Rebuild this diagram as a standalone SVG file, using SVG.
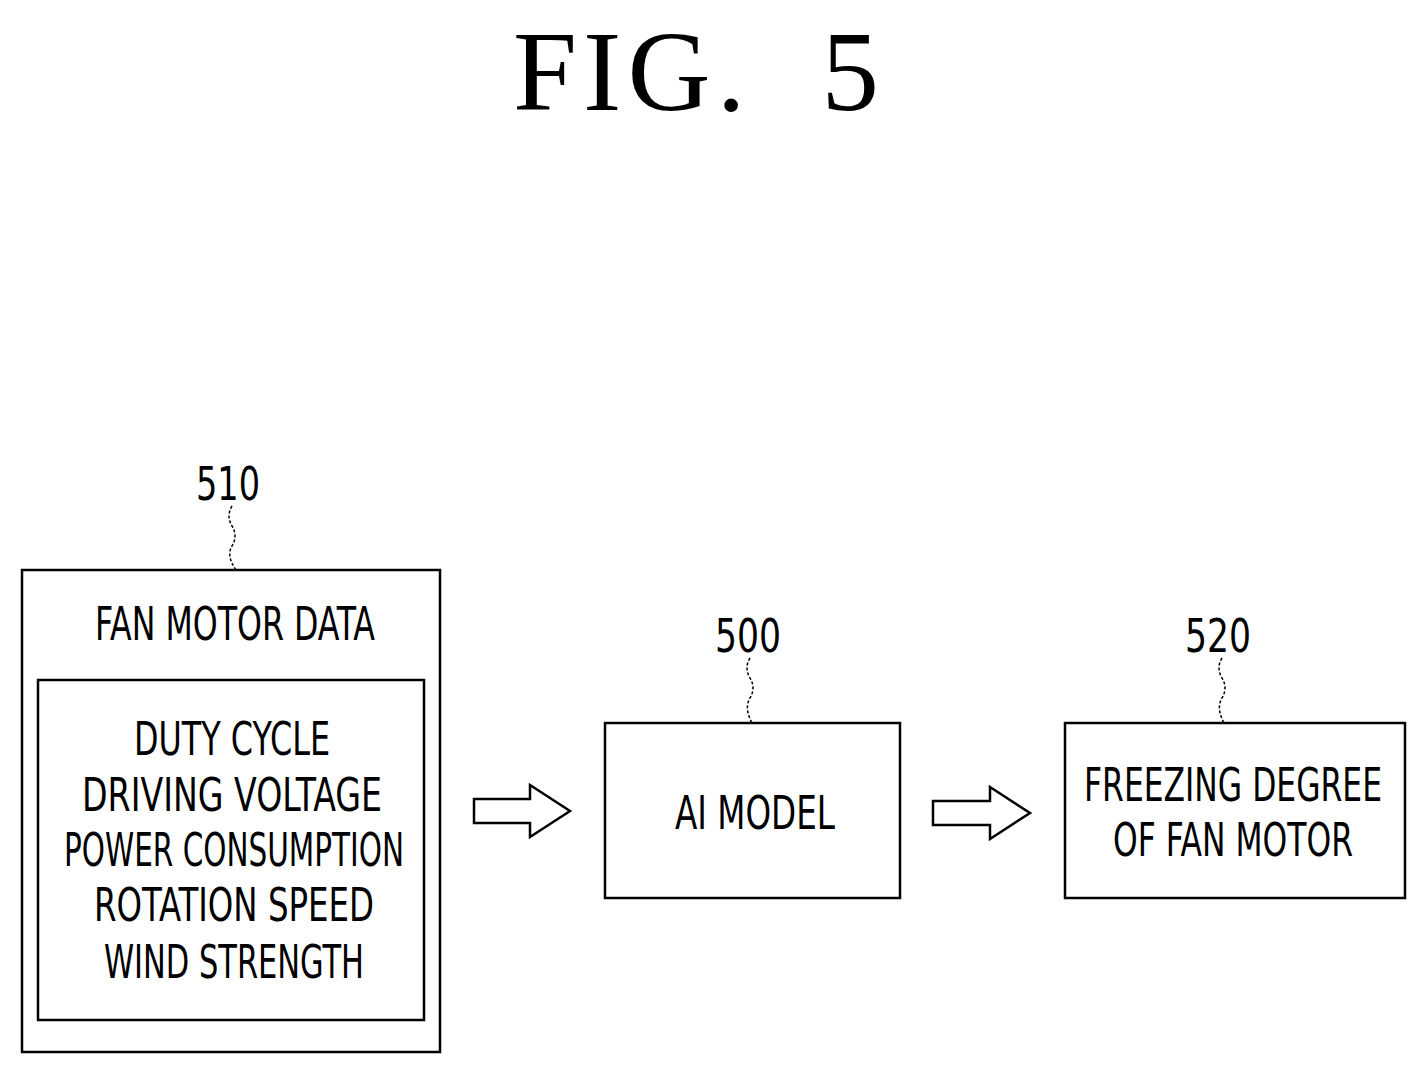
<svg xmlns="http://www.w3.org/2000/svg" width="1427" height="1074" viewBox="0 0 1427 1074">
<style>
.b{fill:none;stroke:#000;stroke-width:2.5}
.t{font-family:"DejaVu Sans Condensed","Liberation Sans",sans-serif;font-size:46px;text-anchor:middle;fill:#000}
.l{fill:none;stroke:#000;stroke-width:1.5;stroke-dasharray:3 2}
</style>
<rect width="1427" height="1074" fill="#fff"/>
<text x="696" y="110" font-family="Liberation Serif,serif" font-size="115" text-anchor="middle" textLength="366" lengthAdjust="spacing" xml:space="preserve">FIG.  5</text>
<g id="n510">
<text class="t" x="228" y="500" textLength="64" lengthAdjust="spacingAndGlyphs">510</text>
<path class="l" d="M232,506 q-6,10 0,20 q6,10 0,20 q-6,10 4,24"/>
<rect class="b" x="22" y="570" width="418" height="482"/>
<text class="t" x="235" y="640" textLength="280" lengthAdjust="spacingAndGlyphs">FAN MOTOR DATA</text>
<rect class="b" x="38" y="680" width="386" height="340"/>
<text class="t" x="232" y="755" textLength="196" lengthAdjust="spacingAndGlyphs">DUTY CYCLE</text>
<text class="t" x="232" y="811" textLength="300" lengthAdjust="spacingAndGlyphs">DRIVING VOLTAGE</text>
<text class="t" x="234" y="866" textLength="340" lengthAdjust="spacingAndGlyphs">POWER CONSUMPTION</text>
<text class="t" x="234" y="921" textLength="280" lengthAdjust="spacingAndGlyphs">ROTATION SPEED</text>
<text class="t" x="234" y="978" textLength="260" lengthAdjust="spacingAndGlyphs">WIND STRENGTH</text>
</g>
<g id="n500">
<text class="t" x="748" y="652" textLength="66" lengthAdjust="spacingAndGlyphs">500</text>
<path class="l" d="M750,658 q-6,10 0,20 q6,10 0,20 q-6,10 2,25"/>
<rect class="b" x="605" y="723" width="295" height="175"/>
<text class="t" x="755" y="829" textLength="160" lengthAdjust="spacingAndGlyphs">AI MODEL</text>
</g>
<g id="n520">
<text class="t" x="1218" y="652" textLength="66" lengthAdjust="spacingAndGlyphs">520</text>
<path class="l" d="M1222,658 q-6,10 0,20 q6,10 0,20 q-6,10 2,25"/>
<rect class="b" x="1065" y="723" width="340" height="175"/>
<text class="t" x="1233" y="801" textLength="298" lengthAdjust="spacingAndGlyphs">FREEZING DEGREE</text>
<text class="t" x="1233" y="856" textLength="240" lengthAdjust="spacingAndGlyphs">OF FAN MOTOR</text>
</g>
<g id="connectors">
<path class="b" d="M474,799 H530 V785 L570,811 L530,837 V823 H474 Z"/>
<path class="b" d="M933,801 H990 V787 L1030,813 L990,839 V825 H933 Z"/>
</g>
</svg>
